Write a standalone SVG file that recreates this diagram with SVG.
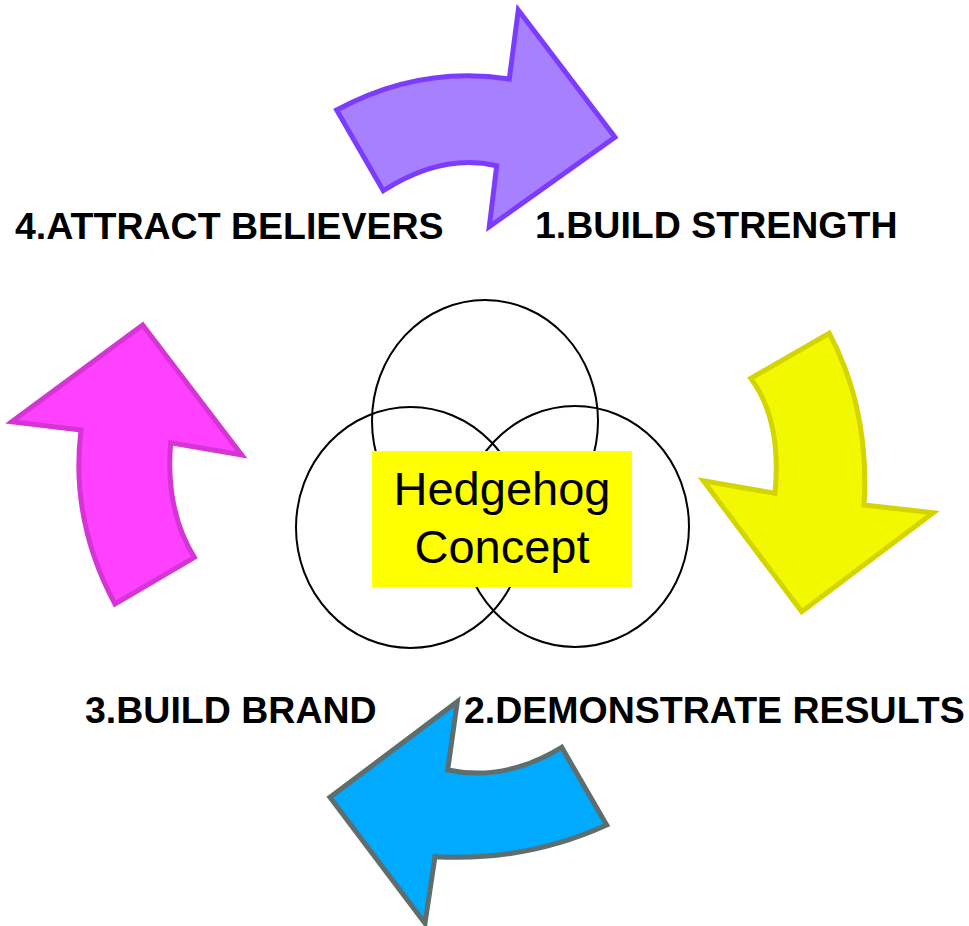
<svg xmlns="http://www.w3.org/2000/svg" width="969" height="926" viewBox="0 0 969 926">
<style>
.lbl{font-family:"Liberation Sans",Arial,sans-serif;font-weight:bold;font-size:37.5px;fill:#000}
.ctr{font-family:"Liberation Sans",Arial,sans-serif;font-size:47px;fill:#000;text-anchor:middle}
.arrow{stroke-width:5;stroke-linejoin:miter}
.ring{fill:none;stroke:#000;stroke-width:2}
</style>
<rect width="969" height="926" fill="#fff"/>
<g id="connectors">
<path id="arrow-purple" class="arrow" fill="#A680FF" stroke="#7C3CFF" d="M336.7,110 Q420,65 509.3,79 L518.3,10 L615,137.3 L489.3,226.7 L496.7,165.7 Q442,153 383.3,190.7 Z"/>
<path id="arrow-yellow" class="arrow" fill="#F2F800" stroke="#D4D400" d="M750.7,378.3 L829.3,333.3 Q870,410 864,505 L933.3,512.7 L801.7,611.7 L703.3,480.7 L775,493.3 Q782,420 750.7,378.3 Z"/>
<path id="arrow-blue" class="arrow" fill="#00AAFF" stroke="#5E6E6E" d="M457.3,701.7 L447.7,770 Q505,782 561.7,747.3 L606.7,825 Q525,862 435,856.7 L425,923.3 L330,797.3 Z"/>
<path id="arrow-pink" class="arrow" fill="#FF40FF" stroke="#D535D5" d="M142.7,325 L241.7,455 L170.7,442.7 Q165,510 194.3,557.3 L115,604 Q70,520 81,430 L11.7,421.7 Z"/>
</g>
<g id="venn">
<ellipse class="ring" cx="485" cy="421" rx="113" ry="121"/>
<ellipse class="ring" cx="410.5" cy="527.5" rx="114.5" ry="120.5"/>
<ellipse class="ring" cx="575" cy="526.5" rx="114" ry="120.5"/>
</g>
<g id="hedgehog-concept">
<rect x="372" y="451" width="260" height="136" fill="#FFFF00"/>
<text class="ctr" x="502" y="505">Hedgehog</text>
<text class="ctr" x="502" y="563">Concept</text>
</g>
<g id="label-1"><text class="lbl" x="535" y="238">1.BUILD STRENGTH</text></g>
<g id="label-2"><text class="lbl" x="464" y="723">2.DEMONSTRATE RESULTS</text></g>
<g id="label-3"><text class="lbl" x="85" y="723">3.BUILD BRAND</text></g>
<g id="label-4"><text class="lbl" x="15" y="239">4.ATTRACT BELIEVERS</text></g>
</svg>
